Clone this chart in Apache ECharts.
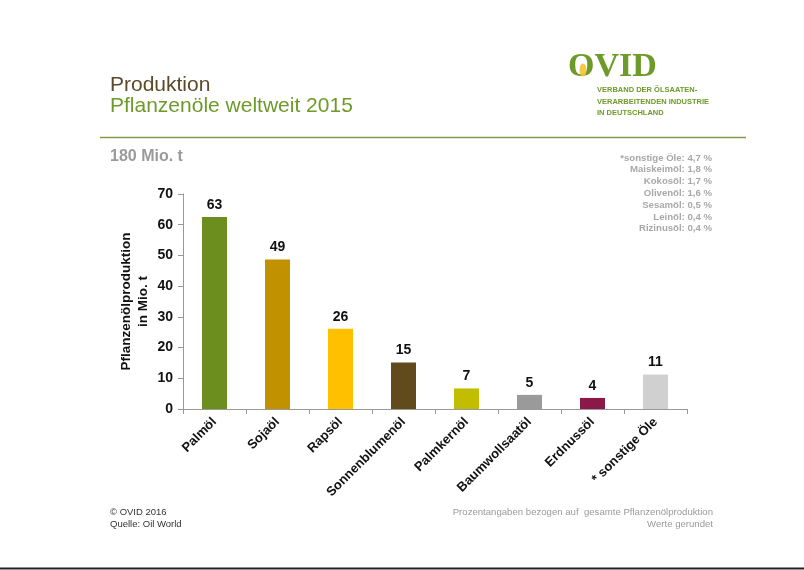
<!DOCTYPE html>
<html>
<head>
<meta charset="utf-8">
<script src="https://cdn.jsdelivr.net/npm/echarts@6/dist/echarts.min.js"></script>
<style>
html,body{margin:0;padding:0;background:#fff;}
#chart{width:804px;height:570px;}
</style>
</head>
<body>
<div id="chart"></div>
<script>
const categories = ['Palmöl','Sojaöl','Rapsöl','Sonnenblumenöl','Palmkernöl','Baumwollsaatöl','Erdnussöl','* sonstige Öle'];
const values = [62.5, 48.7, 26.1, 15.1, 6.7, 4.6, 3.6, 11.2];
const valueLabels = ['63','49','26','15','7','5','4','11'];
const barColors = ['#6b8e1e','#c29100','#ffc000','#614a1c','#c2bd00','#9a9a9a','#8a1848','#d0d0d0'];
const yTicks = [0,10,20,30,40,50,60,70];
const notes = ['*sonstige Öle: 4,7 %','Maiskeimöl: 1,8 %','Kokosöl: 1,7 %','Olivenöl: 1,6 %','Sesamöl: 0,5 %','Leinöl: 0,4 %','Rizinusöl: 0,4 %'];

const chart = echarts.init(document.getElementById('chart'), null, {renderer:'canvas'});
const FONT = 'Liberation Sans, Arial, sans-serif';

const graphics = [
  {type:'text', left:110, top:75, style:{text:'Produktion', font:'21px '+FONT, fill:'#5a4a28'}},
  {type:'text', left:110, top:96, style:{text:'Pflanzenöle weltweit 2015', font:'21px '+FONT, fill:'#6e9a2a'}},
  {type:'line', shape:{x1:100,y1:137.5,x2:746,y2:137.5}, style:{stroke:'#7f9a4a', lineWidth:1.5}},
  {type:'line', shape:{x1:0,y1:568.5,x2:804,y2:568.5}, style:{stroke:'#222', lineWidth:2}},
  // logo
  {type:'text', left:568, top:50, style:{text:'OVID', font:'bold 34px Liberation Serif, DejaVu Serif, serif', fill:'#6e9a2a'}},
  {type:'ellipse', shape:{cx:583, cy:70, rx:3.5, ry:6.5}, style:{fill:'#f4c430', opacity:0.9}},
  {type:'text', left:597, top:86, style:{text:'VERBAND DER ÖLSAATEN-', font:'bold 7.5px '+FONT, fill:'#6e9a2a'}},
  {type:'text', left:597, top:98, style:{text:'VERARBEITENDEN INDUSTRIE', font:'bold 7.5px '+FONT, fill:'#6e9a2a'}},
  {type:'text', left:597, top:109, style:{text:'IN DEUTSCHLAND', font:'bold 7.5px '+FONT, fill:'#6e9a2a'}},
  {type:'text', left:110, top:149, style:{text:'180 Mio. t', font:'bold 16px '+FONT, fill:'#9a9a9a'}},
  {type:'text', left:110, top:507, style:{text:'© OVID 2016', font:'9.5px '+FONT, fill:'#333'}},
  {type:'text', left:110, top:519, style:{text:'Quelle: Oil World', font:'9.5px '+FONT, fill:'#333'}},
  {type:'text', right:91, top:507, style:{text:'Prozentangaben bezogen auf  gesamte Pflanzenölproduktion', font:'9.6px '+FONT, fill:'#9a9a9a', align:'right'}},
  {type:'text', right:91, top:519, style:{text:'Werte gerundet', font:'9.6px '+FONT, fill:'#9a9a9a', align:'right'}}
];
notes.forEach((t,i)=>{
  graphics.push({type:'text', right:92, top:153 + i*11.8, style:{text:t, font:'bold 9.6px '+FONT, fill:'#a8a8a8', align:'right'}});
});

chart.setOption({
  animation:false,
  backgroundColor:'#fff',
  grid:{left:183, right:117, top:194, bottom:161, containLabel:false},
  xAxis:{
    type:'category',
    data:categories,
    axisLine:{show:true, lineStyle:{color:'#999', width:1}},
    axisTick:{show:true, alignWithLabel:false, length:5, lineStyle:{color:'#999'}},
    axisLabel:{rotate:45, fontFamily:FONT, fontWeight:'bold', fontSize:13, color:'#111', margin:11, interval:0}
  },
  yAxis:{
    type:'value',
    min:0, max:70, interval:10,
    name:'Pflanzenölproduktion\nin Mio. t',
    nameLocation:'middle',
    nameGap:31,
    nameMoveOverlap:false,
    nameRotate:90,
    nameTextStyle:{fontFamily:FONT, fontWeight:'bold', fontSize:13.5, color:'#111', lineHeight:17},
    axisLine:{show:true, lineStyle:{color:'#999'}},
    axisTick:{show:true, inside:false, length:5, lineStyle:{color:'#999'}},
    splitLine:{show:false},
    axisLabel:{fontFamily:FONT, fontWeight:'bold', fontSize:14, color:'#111', margin:10,
      formatter:v=> yTicks.includes(v) ? String(v) : ''}
  },
  series:[{
    type:'bar',
    barWidth:25,
    data:values.map((v,i)=>({value:v, itemStyle:{color:barColors[i]}})),
    label:{show:true, position:'top', distance:5, fontFamily:FONT, fontWeight:'bold', fontSize:14, color:'#111',
      formatter:p=>valueLabels[p.dataIndex]}
  }],
  graphic:graphics
});
</script>
</body>
</html>
